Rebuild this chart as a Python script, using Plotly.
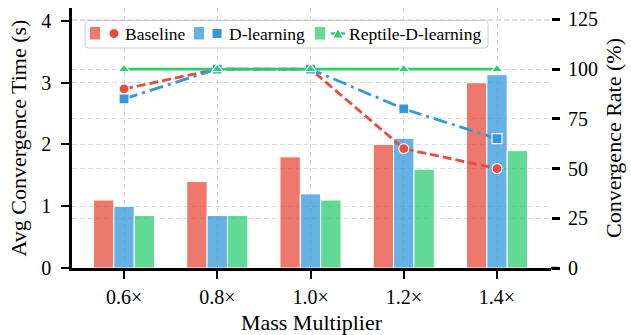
import plotly.graph_objects as go

# ---------------- data ----------------
categories = ["0.6×", "0.8×", "1.0×", "1.2×", "1.4×"]
series_names = ["Baseline", "D-learning", "Reptile-D-learning"]
time_baseline = [1.1, 1.4, 1.8, 2.0, 3.0]
time_dlearning = [1.0, 0.85, 1.2, 2.1, 3.13]
time_reptile = [0.85, 0.85, 1.1, 1.6, 1.9]
rate_baseline = [90, 100, 100, 60, 50]
rate_dlearning = [85, 100, 100, 80, 65]
rate_reptile = [100, 100, 100, 100, 100]
left_ticks = [0, 1, 2, 3, 4]
right_ticks = [0, 25, 50, 75, 100, 125]

# ---------------- styles ----------------
FONT = "Liberation Serif"
bar_colors = ["rgba(231,76,60,0.75)", "rgba(52,152,219,0.75)", "rgba(46,204,113,0.75)"]
line_colors = ["#e74c3c", "#3498db", "#2ecc71"]
dashes = ["9px,4px", "14px,5px,3px,5px", "solid"]
symbols = ["circle", "square", "triangle-up"]
GRID = "#dcdcdc"

W, H = 631, 335
L, R, T, B = 72, 80, 8, 67
PW, PH = W - L - R, H - T - B


def px(x):
    return (x - L) / PW


def py(y):
    return (H - B - y) / PH


times = [time_baseline, time_dlearning, time_reptile]
rates = [rate_baseline, rate_dlearning, rate_reptile]

fig = go.Figure()
for i, name in enumerate(series_names):
    fig.add_trace(go.Bar(
        x=categories, y=times[i], name=name, yaxis="y",
        marker=dict(color=bar_colors[i], line=dict(color="white", width=1)),
        showlegend=False,
    ))
for i, name in enumerate(series_names):
    fig.add_trace(go.Scatter(
        x=categories, y=rates[i], name=name, yaxis="y2", mode="lines+markers",
        line=dict(color=line_colors[i], width=2.8, dash=dashes[i]),
        marker=dict(symbol=symbols[i], size=10, color=line_colors[i],
                    line=dict(color="white", width=1.2)),
        showlegend=False,
    ))

# ---------------- manual legend ----------------
shapes = []
bx0, by0, bx1, by1 = 85, 20.5, 488, 48
bw, bh, r = bx1 - bx0, by1 - by0, 3
path = (f"M {r},0 L {bw-r},0 Q {bw},0 {bw},{r} L {bw},{bh-r} Q {bw},{bh} {bw-r},{bh} "
        f"L {r},{bh} Q 0,{bh} 0,{bh-r} L 0,{r} Q 0,0 {r},0 Z")
shapes.append(dict(type="path", xref="paper", yref="paper", xsizemode="pixel", ysizemode="pixel",
                   xanchor=px(bx0), yanchor=py(by1), path=path,
                   fillcolor="rgba(255,255,255,0.85)", line=dict(color="#cccccc", width=1),
                   layer="above"))
swatch_x = [90, 194, 315]
marker_x = [114, 217, 338]
text_x = [124, 228.7, 348.3]
ly = 33.5
annotations = []
for i, name in enumerate(series_names):
    shapes.append(dict(type="rect", xref="paper", yref="paper",
                       x0=px(swatch_x[i]), x1=px(swatch_x[i] + 10), y0=py(39.5), y1=py(27),
                       fillcolor=bar_colors[i], line=dict(width=0), layer="above"))
    common = dict(xref="paper", yref="paper", xsizemode="pixel", ysizemode="pixel",
                  xanchor=px(marker_x[i]), yanchor=py(ly), fillcolor=line_colors[i],
                  line=dict(color="white", width=1), layer="above")
    if symbols[i] == "circle":
        shapes.append(dict(type="circle", x0=-5, x1=5, y0=-5, y1=5, **common))
    elif symbols[i] == "square":
        shapes.append(dict(type="rect", x0=-5, x1=5, y0=-5, y1=5, **common))
    else:
        shapes.append(dict(type="line", xref="paper", yref="paper",
                           x0=px(marker_x[i] - 7), x1=px(marker_x[i] + 7), y0=py(ly), y1=py(ly),
                           line=dict(color=line_colors[i], width=2.5), layer="above"))
        shapes.append(dict(type="path", path="M -5,-4.5 L 5,-4.5 L 0,5 Z", **common))
    annotations.append(dict(xref="paper", yref="paper", x=px(text_x[i] - 1.5), y=py(ly),
                            xanchor="left", yanchor="middle", text=name, showarrow=False,
                            font=dict(family=FONT, size=17.5, color="black")))

# small extension of bottom spine to the right tick column
shapes.append(dict(type="line", xref="paper", yref="paper", x0=1, x1=px(558), y0=0, y1=0,
                   line=dict(color="black", width=2.5), layer="above"))

fig.update_layout(
    width=W, height=H,
    margin=dict(l=L, r=R, t=T, b=B, autoexpand=False),
    paper_bgcolor="white", plot_bgcolor="white",
    font=dict(family=FONT, size=20, color="black"),
    barmode="group", bargap=0.345, bargroupgap=0,
    showlegend=False,
    xaxis=dict(
        type="category", categoryorder="array", categoryarray=categories,
        range=[-0.558, 4.579],
        showline=True, linecolor="black", linewidth=2.5,
        ticks="outside", ticklen=8, tickwidth=2, tickcolor="black",
        tickfont=dict(family=FONT, size=20), ticklabelstandoff=1,
        showgrid=True, gridcolor=GRID, gridwidth=1, griddash="5px,3px",
        zeroline=False,
        title=dict(text="Mass Multiplier", font=dict(family=FONT, size=22), standoff=8),
    ),
    yaxis=dict(
        range=[0, 4.21], tickvals=left_ticks,
        showline=True, linecolor="black", linewidth=2.5,
        ticks="outside", ticklen=8, tickwidth=2, tickcolor="black",
        tickfont=dict(family=FONT, size=20), ticklabelstandoff=6,
        showgrid=True, gridcolor=GRID, gridwidth=1, griddash="5px,3px",
        zeroline=False,
        title=dict(text="Avg Convergence Time (s)", font=dict(family=FONT, size=22), standoff=9),
    ),
    yaxis2=dict(
        overlaying="y", side="right",
        range=[0, 130.7], tickvals=right_ticks,
        showline=False,
        ticks="outside", ticklen=8, tickwidth=2.5, tickcolor="black",
        tickfont=dict(family=FONT, size=20), ticklabelstandoff=4,
        showgrid=True, gridcolor=GRID, gridwidth=1, griddash="5px,3px",
        zeroline=False,
        title=dict(text="Convergence Rate (%)", font=dict(family=FONT, size=22), standoff=8),
    ),
    shapes=shapes,
    annotations=annotations,
)

fig.write_html("out.html")
